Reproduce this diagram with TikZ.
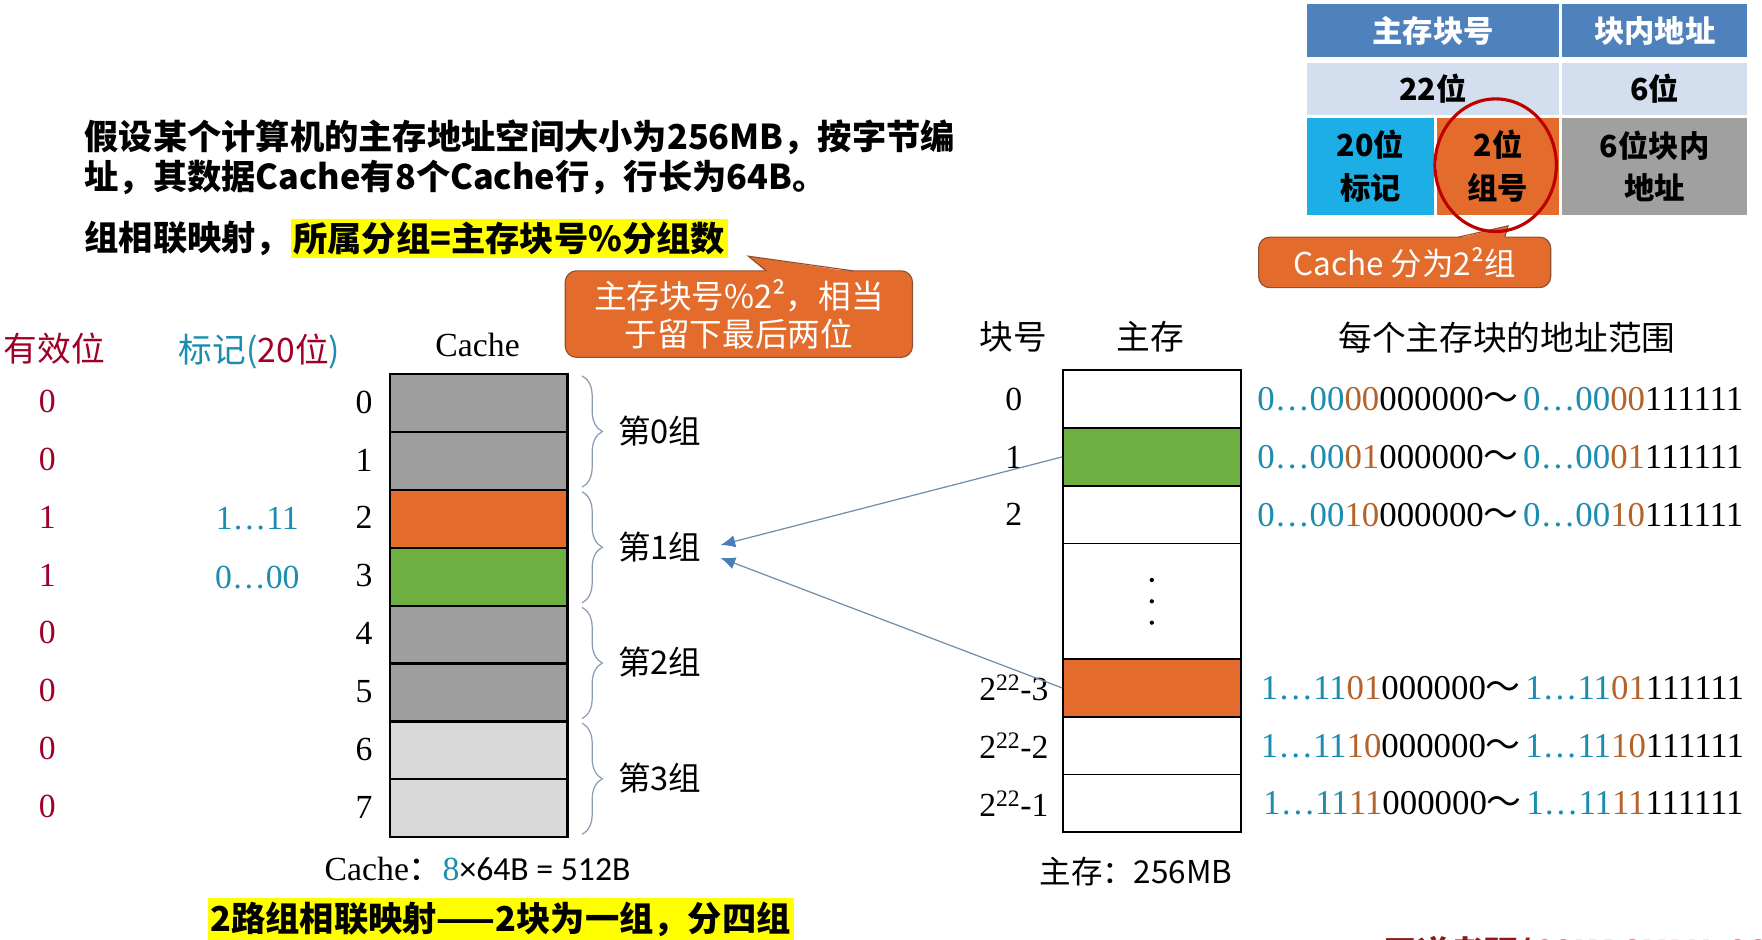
\documentclass[tikz,border=0pt]{standalone}
\usepackage{fontspec}
\setmainfont{Liberation Serif}
\newfontfamily\cjk{Noto Sans CJK SC}
\newfontfamily\calib{Carlito}
\usepackage{tikz}
\usetikzlibrary{arrows.meta,positioning,calc,decorations.pathreplacing}
\definecolor{hdrblue}{HTML}{4F81BD}
\definecolor{rowpale}{HTML}{D3DFEE}
\definecolor{tagcyan}{HTML}{1CAEE4}
\definecolor{setorange}{HTML}{E36C2C}
\definecolor{offgray}{HTML}{A0A0A0}
\definecolor{cgray}{HTML}{9E9E9E}
\definecolor{clight}{HTML}{D9D9D9}
\definecolor{cgreen}{HTML}{6DB041}
\definecolor{vred}{HTML}{A00028}
\definecolor{tagteal}{HTML}{1B8DB0}
\definecolor{bitbrown}{HTML}{B4632A}
\definecolor{ringred}{HTML}{C00000}
\definecolor{callrim}{HTML}{8E5030}
\definecolor{hlyellow}{HTML}{FFFF00}
\definecolor{bracegray}{HTML}{8C9CB0}
\definecolor{linkblue}{HTML}{7090AC}
\definecolor{arrowblue}{HTML}{4A7EBB}
\definecolor{wmred}{HTML}{8B1A1A}
\newcommand\fsz[2]{\fontsize{#1}{#2}\selectfont}
\newcommand\addr[3]{{\color{tagteal}#1}{\color{bitbrown}#2}#3}
\newcommand\tld{{\cjk ～}\hspace{4pt}}

\begin{document}
\begin{tikzpicture}[x=1pt, y=-1pt, >=Latex]
  \tikzset{hdr/.style={fill=hdrblue, text=white, minimum height=47.5, inner sep=0, font=\cjk\bfseries\fsz{27}{30}},
           cell/.style={minimum height=46, inner sep=0, align=center, font=\cjk\bfseries\fsz{27}{38}},
           txt/.style={anchor=west, inner sep=0, font=\cjk\bfseries\fsz{30.5}{36}},
           hl/.style={fill=hlyellow, inner sep=2.5},
           callout/.style={fill=setorange, draw=callrim, line width=1, rounded corners=10, text=white, align=center, inner sep=0},
           num/.style={font=\fsz{30}{34}, inner sep=0},
           vbit/.style={num, text=vred}, tagv/.style={num, text=tagteal},
           cline/.style={draw=black, line width=2, minimum width=158, minimum height=51.5, inner sep=0},
           mline/.style={draw=black, line width=1.6, minimum width=158, minimum height=51.4, inner sep=0},
           grp/.style={font=\cjk\fsz{29}{34}, inner sep=0},
           brc/.style={draw=bracegray, line width=1.1, decorate, decoration={brace, amplitude=18pt}},
           link/.style={draw=linkblue, line width=1.1, -{Latex[length=13pt, width=11pt, color=arrowblue]}},
           colh/.style={font=\cjk\fsz{30}{34}, inner sep=0},
           addr/.style={anchor=west, inner sep=0, font=\fsz{31}{34}}}
  \fill[white] (0,0) rectangle (1568,836);
  \useasboundingbox (0,0) rectangle (1568,836);
  % address fields
  \node[hdr, minimum width=224.5] (hblk) at (1275.25, 27.25) {主存块号};
  \node[hdr, minimum width=165] (hoff) at (1472.5, 27.25) {块内地址};
  \node[cell, fill=rowpale, minimum width=224.5] (wblk) at (1275.25, 79) {22位};
  \node[cell, fill=rowpale, minimum width=165] (woff) at (1472.5, 79) {6位};
  \node[cell, fill=tagcyan, minimum width=113, minimum height=86] (ftag) at (1219.5, 148) {20位\\标记};
  \node[cell, fill=setorange, minimum width=109, minimum height=86] (fset) at (1333, 148) {2位\\组号};
  \node[cell, fill=offgray, minimum width=165, minimum height=86] (fword) at (1472.5, 148) {6位块内\\地址};
  \node[callout, minimum width=260, minimum height=45, font=\cjk\fsz{28}{32}] (cset) at (1250, 233.5) {Cache 分为2²组};
  \fill[setorange] (1298, 212) -- (1342, 201) -- (1339, 212) -- cycle;
  \draw[callrim, line width=1] (1298, 211) -- (1342, 201) -- (1339, 211);
  % problem text
  \node[txt] (l1) at (75, 122) {假设某个计算机的主存地址空间大小为256MB，按字节编};
  \node[txt] (l2) at (75, 158) {址，其数据Cache有8个Cache行，行长为64B。};
  \node[txt] (l3) at (75, 212) {组相联映射，};
  \node[txt, hl, right=0 of l3] (l3h) {所属分组=主存块号\%分组数};
  \node[callout, minimum width=309, minimum height=77, font=\cjk\fsz{29}{34}] (cmod) at (657.5, 279.5) {主存块号\%2²，相当\\于留下最后两位};
  \fill[setorange] (682, 242) -- (666, 228) -- (759, 242) -- cycle;
  \draw[callrim, line width=1] (682, 241) -- (666, 228) -- (759, 241);
  % cache side
  \node[colh, text=vred] (hval) at (48.5, 310) {有效位};
  \node[colh, text=tagteal] (htag) at (231, 313) {标记({\color{vred}20位})};
  \node[num] (hcache) at (425, 307) {Cache};
  \foreach \i/\col in {0/cgray,1/cgray,2/setorange,3/cgreen,4/cgray,5/cgray,6/clight,7/clight}
    \node[cline, fill=\col] (c\i) at (426, {358.75+51.5*\i}) {};
  \foreach \i in {0,...,7}
    \node[num] (n\i) at ($(c\i.west)+(-22,-1)$) {\i};
  \foreach \i/\v in {0/0,1/0,2/1,3/1,4/0,5/0,6/0,7/0}
    \node[vbit] (v\i) at ($(c\i.west)+(-304,-1.5)$) {\v};
  \node[tagv] (t2) at ($(c2.west)+(-117,0)$) {1…11};
  \node[tagv] (t3) at ($(c3.west)+(-117,1)$) {0…00};
  \foreach \k/\a/\b in {0/0/1,1/2/3,2/4/5,3/6/7} {
    \draw[brc] ($(c\a.north east)+(12,2.5)$) -- ($(c\b.south east)+(12,-3.5)$);
    \node[grp] (g\k) at ($(c\a.south east)+(81,-2)$) {第\k 组};
  }
  \coordinate (g1a) at ($(g1.east)+(17,-1.5)$);
  \coordinate (g1b) at ($(g1.east)+(17,10)$);
  \node[font=\fsz{30}{34}, inner sep=0] (csize) at (425, 773) {Cache{\cjk ：}{\color{tagteal}8}{\calib ×64B = 512B}};
  \node[font=\cjk\bfseries\fsz{30.5}{36}, hl, minimum height=38] (way) at (445.5, 818) {2路组相联映射——2块为一组，分四组};
  % main memory side
  \node[colh] (hno) at (902, 300) {块号};
  \node[colh] (hmem) at (1024, 300) {主存};
  \node[colh] (hrange) at (1341, 300) {每个主存块的地址范围};
  \foreach \n/\y/\col in {0/355.2/white,1/406.6/cgreen,2/458/white,3/612.2/setorange,4/663.6/white,5/715/white}
    \node[mline, fill=\col] (m\n) at (1025, \y) {};
  \node[mline, minimum height=102.8] (mdots) at (1025, 535.1) {};
  \foreach \d in {-19,0,19}
    \fill ($(mdots.center)+(0,\d)$) circle[radius=1.9pt];
  \foreach \n/\lab in {0/0,1/1,2/2,3/{2\textsuperscript{22}-3},4/{2\textsuperscript{22}-2},5/{2\textsuperscript{22}-1}}
    \node[num] (k\n) at ($(m\n.west)+(-43,0)$) {\lab};
  \node[addr] (a0) at ($(m0.east)+(14,0)$) {\addr{0…00}{00}{000000}\tld\addr{0…00}{00}{111111}};
  \node[addr] (a1) at ($(m1.east)+(14,0)$) {\addr{0…00}{01}{000000}\tld\addr{0…00}{01}{111111}};
  \node[addr] (a2) at ($(m2.east)+(14,0)$) {\addr{0…00}{10}{000000}\tld\addr{0…00}{10}{111111}};
  \node[addr] (a3) at ($(m3.east)+(17,0)$) {\addr{1…11}{01}{000000}\tld\addr{1…11}{01}{111111}};
  \node[addr] (a4) at ($(m4.east)+(17,0)$) {\addr{1…11}{10}{000000}\tld\addr{1…11}{10}{111111}};
  \node[addr] (a5) at ($(m5.east)+(19,0)$) {\addr{1…11}{11}{000000}\tld\addr{1…11}{11}{111111}};
  \node[font=\cjk\fsz{28}{32}, inner sep=0] (msize) at (1011, 776) {主存：256MB};
  \draw[link] (m1.west) -- (g1a);
  \draw[link] (m3.west) -- (g1b);
  \node[anchor=north west, inner sep=0, text=wmred, font=\cjk\bfseries\fsz{30}{34}] (wm) at (1231, 833) {王道考研/CSKAOYAN.COM};
  % hand-drawn ring
  \draw[ringred, line width=2.8] (1331, 147) ellipse[x radius=54, y radius=59];
\end{tikzpicture}
\end{document}
